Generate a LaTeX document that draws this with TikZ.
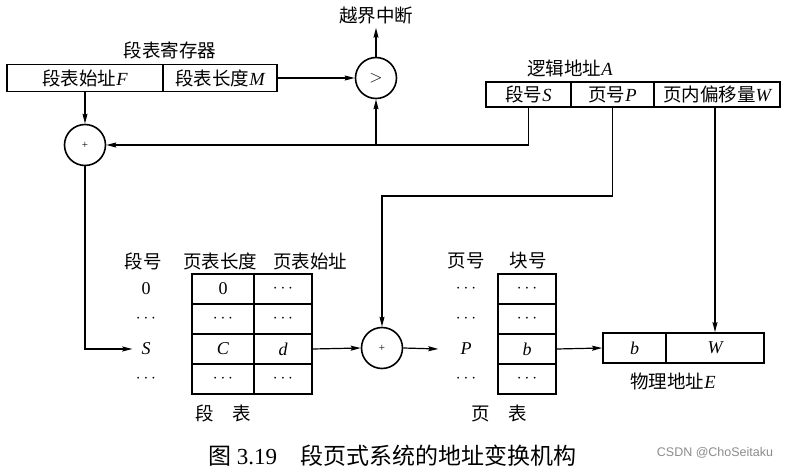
\documentclass[tikz,border=0pt]{standalone}
\usepackage{fontspec}
\setmainfont{Liberation Serif}
\newfontfamily\cjk{Noto Sans CJK SC}
\newfontfamily\wmfont{Liberation Sans}
\usetikzlibrary{arrows.meta,calc}
\newcommand\vi[1]{{\rmfamily\itshape #1}}
\begin{document}
\begin{tikzpicture}[x=1pt,y=-1pt,
  every node/.style={inner sep=0pt},
  lbl/.style={font=\cjk\fontsize{18.5}{22}\selectfont},
  txt/.style={font=\fontsize{18}{21}\selectfont},
  cell/.style={draw,line width=1.8pt,anchor=center,inner sep=0pt},
  ring/.style={circle,draw,line width=1.6pt,minimum size=41pt,inner sep=0pt},
  conn/.style={line width=1.2pt,-{Stealth[length=10pt,width=5pt,inset=1.5pt]}}]
\useasboundingbox[fill=white] (0,0) rectangle (788,473);

% segment table register
\node[lbl] (regT) at (170,50) {段表寄存器};
\node[cell,lbl,minimum width=156pt,minimum height=27pt] (regF) at (85,78) {段表始址\vi{F}};
\node[cell,lbl,minimum width=114pt,minimum height=27pt] (regM) at (220,78) {段表长度\vi{M}};

% comparator and interrupt
\node[ring,txt] (cmp) at (376,78) {$>$};
\node[lbl] (intr) at (376,16) {越界中断};

% logical address
\node[lbl] (laT) at (570,68) {逻辑地址\vi{A}};
\node[cell,lbl,minimum width=85pt,minimum height=25pt] (LS) at (528.5,94.5) {段号\vi{S}};
\node[cell,lbl,minimum width=83pt,minimum height=25pt] (LP) at (612.5,94.5) {页号\vi{P}};
\node[cell,lbl,minimum width=126pt,minimum height=25pt] (LW) at (717,94.5) {页内偏移量\vi{W}};

% adders
\node[ring,font=\fontsize{11}{11}\selectfont] (add1) at (85,145) {+};
\node[ring,font=\fontsize{11}{11}\selectfont] (add2) at (382,348) {+};

% segment table
\node[lbl] (shA) at (143,261) {段号};
\node[lbl] (shB) at (220,261) {页表长度};
\node[lbl] (shC) at (310,261) {页表始址};
\node[txt] (r1) at (146,289) {0};
\node[txt] (r2) at (146,319) {$\cdots$};
\node[txt] (rS) at (146,349) {\vi{S}};
\node[txt] (r4) at (146,379) {$\cdots$};
\node[cell,txt,minimum width=62pt,minimum height=30pt] (sa1) at (223,289) {0};
\node[cell,txt,minimum width=58pt,minimum height=30pt] (sb1) at (283,289) {$\cdots$};
\node[cell,txt,minimum width=62pt,minimum height=30pt] (sa2) at (223,319) {$\cdots$};
\node[cell,txt,minimum width=58pt,minimum height=30pt] (sb2) at (283,319) {$\cdots$};
\node[cell,txt,minimum width=62pt,minimum height=30pt] (sC) at (223,349) {\vi{C}};
\node[cell,txt,minimum width=58pt,minimum height=30pt] (sd) at (283,349) {\vi{d}};
\node[cell,txt,minimum width=62pt,minimum height=30pt] (sa4) at (223,379) {$\cdots$};
\node[cell,txt,minimum width=58pt,minimum height=30pt] (sb4) at (283,379) {$\cdots$};
\node[lbl] (sT) at (223,413) {段\hspace{1em}表};

% page table
\node[lbl] (phA) at (466,261) {页号};
\node[lbl] (phB) at (528,261) {块号};
\node[txt] (p1) at (466,289) {$\cdots$};
\node[txt] (p2) at (466,319) {$\cdots$};
\node[txt] (pP) at (466,349) {\vi{P}};
\node[txt] (p4) at (466,379) {$\cdots$};
\node[cell,txt,minimum width=58pt,minimum height=30pt] (pc1) at (527,289) {$\cdots$};
\node[cell,txt,minimum width=58pt,minimum height=30pt] (pc2) at (527,319) {$\cdots$};
\node[cell,txt,minimum width=58pt,minimum height=30pt] (pb) at (527,349) {\vi{b}};
\node[cell,txt,minimum width=58pt,minimum height=30pt] (pc4) at (527,379) {$\cdots$};
\node[lbl] (pT) at (499,413) {页\hspace{1em}表};

% physical address
\node[cell,txt,minimum width=63pt,minimum height=30pt] (Eb) at (634.5,348) {\vi{b}};
\node[cell,txt,minimum width=98pt,minimum height=30pt] (EW) at (715,348) {\vi{W}};
\node[lbl] (ET) at (673,381) {物理地址\vi{E}};

% caption and mark
\node[font=\fontsize{23}{27}\selectfont] (cap) at (392,456) {{\cjk 图} 3.19\hspace{1em}{\cjk 段页式系统的地址变换机构}};
\node[font=\wmfont\fontsize{12.5}{14}\selectfont,text=black!45] (wm) at (715,453) {CSDN @ChoSeitaku};

% connectors
\draw[conn] (regF.south -| add1.north) -- (add1.north);
\draw[conn] (regM.east) -- (cmp.west);
\draw[conn,shorten >=3pt] (cmp.north) -- (intr.south);
\draw[conn] (LS.south) |- (add1.east);
\coordinate (j1) at (cmp.south |- add1.east);
\draw[conn] (j1) -- (cmp.south);
\coordinate (pturn) at (382,196);
\draw[conn] (LP.south) |- (pturn) -- (add2.north);
\draw[conn] (EW.north |- LW.south) -- (EW.north);
\draw[conn] (add1.south) |- ($(rS.west)+(-9,0)$);
\draw[conn] (sd.east) -- (add2.west);
\draw[conn] (add2.east) -- ($(pP.west)+(-22,0)$);
\draw[conn] (pb.east) -- (Eb.west);
\end{tikzpicture}
\end{document}
